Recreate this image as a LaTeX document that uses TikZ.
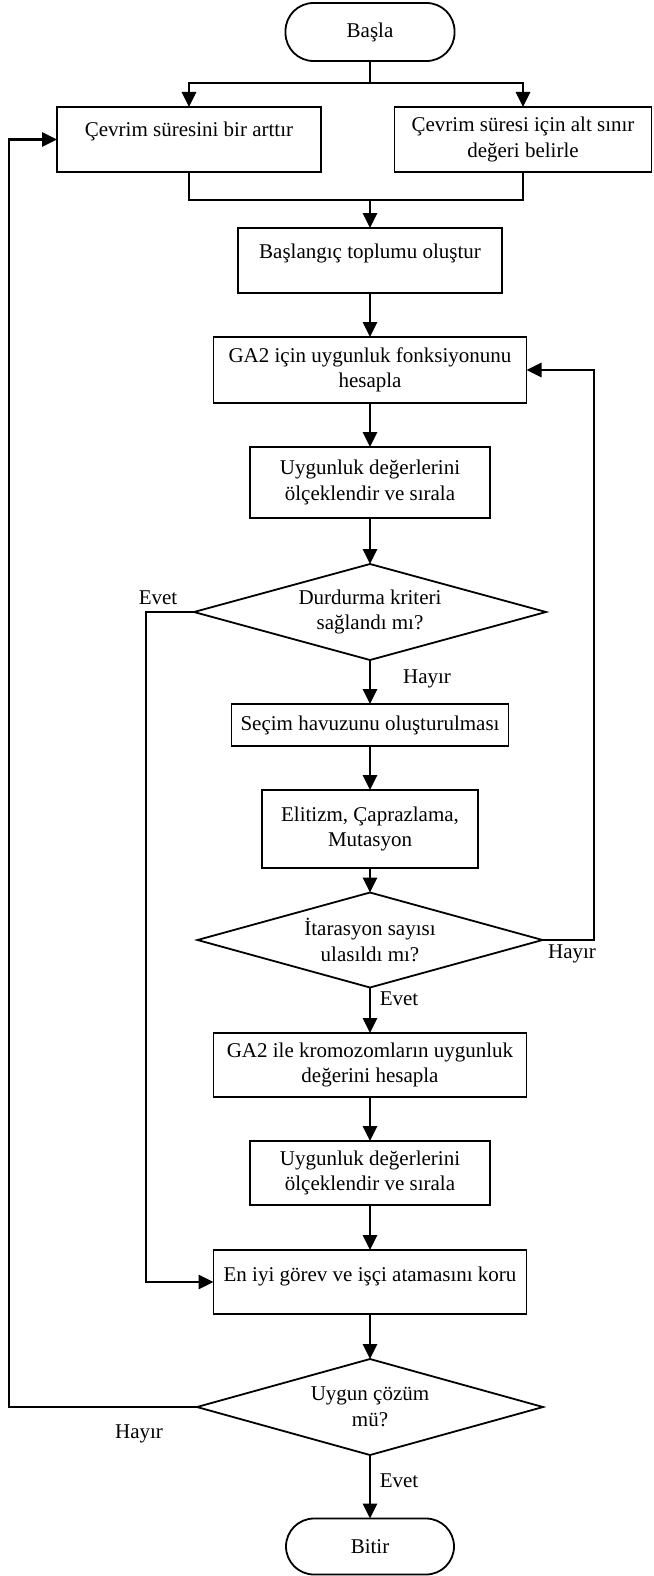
\documentclass[tikz,border=0pt]{standalone}
\usepackage{fontspec}
\setmainfont{Liberation Serif}
\usetikzlibrary{arrows.meta,shapes.geometric}
\begin{document}
\begin{tikzpicture}[x=1pt,y=-1pt,
  every node/.style={font=\fontsize{21}{25.5}\selectfont, inner sep=0pt, outer sep=0pt},
  box/.style={draw, line width=1.8pt, rectangle, align=center},
  term/.style={draw, line width=1.8pt, rectangle, rounded corners=28pt},
  dec/.style={draw, line width=1.8pt, diamond, aspect=3.6, align=center},
  conn/.style={line width=2.8pt},
  arr/.style={line width=2.8pt, -{Triangle[length=15pt,width=14pt]}},
  lbl/.style={text height=14pt, text depth=4pt}
]
\useasboundingbox (0,0) rectangle (653,1576);

% nodes
\node[term, minimum width=169pt, minimum height=58pt] (start) at (370,32) {Başla};
\node[box, minimum width=264pt, minimum height=65pt, text height=14pt, text depth=21pt] (inc) at (189,139.5) {Çevrim süresini bir arttır};
\node[box, minimum width=257pt, minimum height=65pt] (low) at (523,139.5) {Çevrim süresi için alt sınır\\değeri belirle};
\node[box, minimum width=264pt, minimum height=65pt, text height=14pt, text depth=19pt] (init) at (370,260.5) {Başlangıç toplumu oluştur};
\node[box, minimum width=313pt, minimum height=66pt] (ga) at (370,370) {GA2 için uygunluk fonksiyonunu\\hesapla};
\node[box, minimum width=240pt, minimum height=71pt] (sc1) at (370,482.5) {Uygunluk değerlerini\\ölçeklendir ve sırala};
\node[dec, minimum width=352pt, minimum height=96pt] (d1) at (370,612) {Durdurma kriteri\\sağlandı mı?};
\node[box, minimum width=277pt, minimum height=42pt] (sel) at (370,725) {Seçim havuzunu oluşturulması};
\node[box, minimum width=216pt, minimum height=78pt] (ops) at (370,829) {Elitizm, Çaprazlama,\\Mutasyon};
\node[dec, minimum width=345pt, minimum height=95pt] (d2) at (370,940) {İtarasyon sayısı\\ulasıldı mı?};
\node[box, minimum width=313pt, minimum height=64pt] (ga2) at (370,1065) {GA2 ile kromozomların uygunluk\\değerini hesapla};
\node[box, minimum width=240pt, minimum height=64pt] (sc2) at (370,1173) {Uygunluk değerlerini\\ölçeklendir ve sırala};
\node[box, minimum width=313pt, minimum height=64pt, text height=14pt, text depth=16pt] (best) at (370,1282) {En iyi görev ve işçi atamasını koru};
\node[dec, minimum width=346pt, minimum height=96pt] (d3) at (370,1407) {Uygun çözüm\\mü?};
\node[term, minimum width=168pt, minimum height=56pt] (stop) at (370,1546.5) {Bitir};

% labels
\node[lbl] (evet1) at (158,599) {Evet};
\node[lbl] (hayir1) at (427,678) {Hayır};
\node[lbl] (hayir2) at (572,953) {Hayır};
\node[lbl] (evet2) at (399,1000) {Evet};
\node[lbl] (hayir3) at (139,1433) {Hayır};
\node[lbl] (evet3) at (399,1482) {Evet};

% helper coordinates
\coordinate (split) at (370,83);
\coordinate (merge) at (370,200);
\coordinate (yl) at (146,612);
\coordinate (nr) at (594,940);
\coordinate (nl) at (9,1407);

% connectors
\draw[conn] (start) -- (split);
\draw[arr] (split) -| (inc.north);
\draw[arr] (split) -| (low.north);
\draw[conn] (inc.south) |- (merge);
\draw[conn] (low.south) |- (merge);
\draw[arr] (merge) -- (init);
\draw[arr] (init) -- (ga);
\draw[arr] (ga) -- (sc1);
\draw[arr] (sc1) -- (d1);
\draw[arr] (d1) -- (sel);
\draw[arr] (sel) -- (ops);
\draw[arr] (ops) -- (d2);
\draw[arr] (d2) -- (ga2);
\draw[arr] (ga2) -- (sc2);
\draw[arr] (sc2) -- (best);
\draw[arr] (best) -- (d3);
\draw[arr] (d3) -- (stop);
\draw[arr] (d1.west) -- (yl) |- (best.west);
\draw[arr] (d2.east) -- (nr) |- (ga.east);
\draw[arr] (d3.west) -- (nl) |- (inc.west);
\end{tikzpicture}
\end{document}
